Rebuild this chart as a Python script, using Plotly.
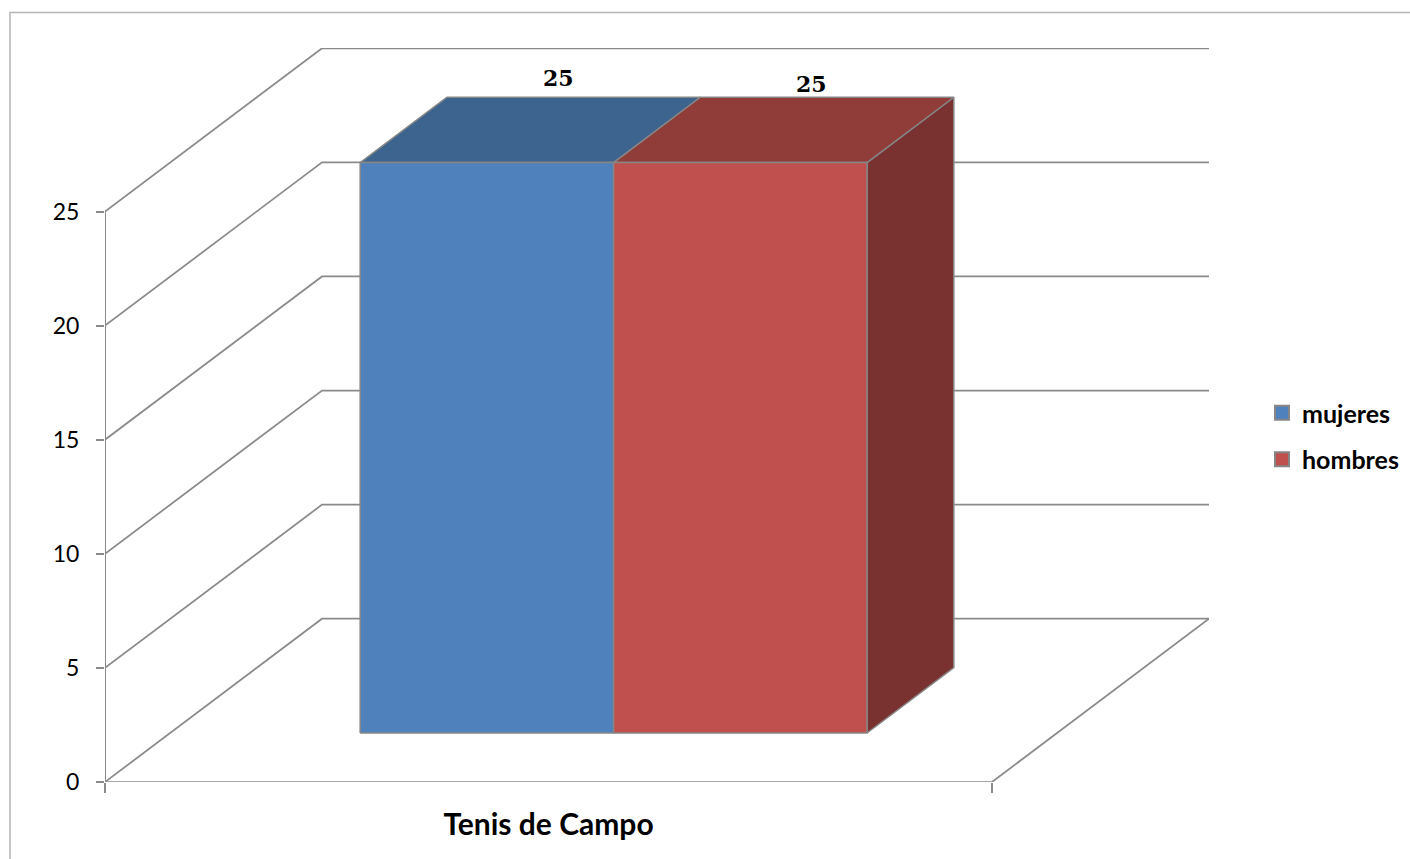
import plotly.graph_objects as go

# --- data ---
categories = ["Tenis de Campo"]
series_names = ["mujeres", "hombres"]
mujeres = [25]
hombres = [25]
value_ticks = [0, 5, 10, 15, 20, 25]

# --- style / oblique projection of the Excel 3-D column chart ---
PX_L, PX_CAT_R, PX_WALL_R = 105.0, 992.0, 1209.0
PX_BASE, PX_TOP = 782.5, 47.5
PX_PER_UNIT = 22.85
DEPTH_DX_PX, DEPTH_DY_PX = 217.0, 163.5
W, H = 1410, 859

CAT_PX = PX_CAT_R - PX_L
DX = DEPTH_DX_PX / CAT_PX            # x-units per unit of depth
DY = DEPTH_DY_PX / PX_PER_UNIT       # value-units per unit of depth
GAP_WIDTH = 1.5
BAR_W = 1 / (2 + GAP_WIDTH)
D0, D1 = 0.3, 0.7                    # bar depth span on the floor

GRID = "#8a8a8a"
EDGE = "#868686"
FRONT = {"mujeres": "#4f81bd", "hombres": "#c0504d"}
TOP = {"mujeres": "#3d638f", "hombres": "#903c39"}
SIDE = {"mujeres": "#2f4d70", "hombres": "#7a3230"}
FONT = "Lato"
LABEL_SHIFT = [(-15, 19), (-16, 13)]


def proj(x, v, d):
    return x + DX * d, v + DY * d


def poly(points):
    xs, ys = zip(*[proj(*p) for p in points])
    return list(xs), list(ys)


fig = go.Figure()


def line(points, width=1.75, color=GRID):
    xs, ys = poly(points)
    fig.add_trace(go.Scatter(x=xs, y=ys, mode="lines", showlegend=False, hoverinfo="skip",
                             line=dict(color=color, width=width)))


def face(points, fill):
    xs, ys = poly(points + points[:1])
    fig.add_trace(go.Scatter(x=xs, y=ys, mode="lines", fill="toself", fillcolor=fill,
                             showlegend=False, hoverinfo="skip",
                             line=dict(color=EDGE, width=1.5)))


# gridlines: across the side wall and the back wall
for v in value_ticks:
    line([(0, v, 0), (0, v, 1), (1, v, 1)])
# floor and axis
line([(0, 0, 0), (1, 0, 0), (1, 0, 1)])
line([(0, 0, 0), (0, value_ticks[-1], 0)], width=2)
# bars, left to right so the right bar hides the side of the left one
starts = [0.5 - BAR_W, 0.5]
values = [mujeres[0], hombres[0]]
for name, x0, val in zip(series_names, starts, values):
    x1 = x0 + BAR_W
    face([(x1, 0, D0), (x1, 0, D1), (x1, val, D1), (x1, val, D0)], SIDE[name])
    face([(x0, val, D0), (x1, val, D0), (x1, val, D1), (x0, val, D1)], TOP[name])
    face([(x0, 0, D0), (x1, 0, D0), (x1, val, D0), (x0, val, D0)], FRONT[name])

# legend entries
for name in series_names:
    fig.add_trace(go.Scatter(x=[None], y=[None], mode="markers", name=name, legendgroup=name,
                             marker=dict(symbol="square", size=14, color=FRONT[name],
                                         line=dict(color=EDGE, width=2))))

annotations = []
for x0, val, (sx, sy) in zip(starts, values, LABEL_SHIFT):
    px, py = proj(x0 + BAR_W / 2, val, D1)
    annotations.append(dict(x=px, y=py, xref="x", yref="y", text=f"<b>{val}</b>", showarrow=False,
                            xanchor="center", yanchor="middle", xshift=sx, yshift=sy,
                            font=dict(family="DejaVu Serif", size=22, color="black")))

fig.update_layout(
    width=W, height=H,
    margin=dict(l=PX_L, r=W - PX_WALL_R, t=PX_TOP, b=H - PX_BASE, pad=0, autoexpand=False),
    paper_bgcolor="white", plot_bgcolor="white",
    annotations=annotations,
    legend=dict(x=(1262 - PX_L) / (PX_WALL_R - PX_L), y=(PX_BASE - 390) / (PX_BASE - PX_TOP),
                xanchor="left", yanchor="top", bgcolor="rgba(0,0,0,0)", borderwidth=0,
                font=dict(family=FONT, size=25, color="black", weight=700), tracegroupgap=11),
    shapes=[dict(type="rect", xref="paper", yref="paper",
                 x0=(10 - PX_L) / (PX_WALL_R - PX_L), x1=(1420 - PX_L) / (PX_WALL_R - PX_L),
                 y0=(PX_BASE - 870) / (PX_BASE - PX_TOP), y1=(PX_BASE - 12) / (PX_BASE - PX_TOP),
                 line=dict(color="#b4b4b4", width=1.5), layer="below")],
    xaxis=dict(range=[0, (PX_WALL_R - PX_L) / CAT_PX], showgrid=False, zeroline=False, showline=False,
               tickvals=[0.5], ticktext=categories, ticks="", ticklabelstandoff=22,
               tickfont=dict(family=FONT, size=30, color="black", weight=700),
               minor=dict(tickvals=[0, 1], ticks="outside", ticklen=10, tickwidth=1.5, tickcolor=GRID)),
    yaxis=dict(range=[0, (PX_BASE - PX_TOP) / PX_PER_UNIT], showgrid=False, zeroline=False, showline=False,
               tickvals=value_ticks, ticks="outside", ticklen=8, tickwidth=1.5, tickcolor=GRID,
               ticklabelstandoff=12, tickfont=dict(family=FONT, size=23, color="black")),
)

fig.write_html("out.html", config={"displayModeBar": False},
               post_script="document.body.style.margin='0';document.body.style.overflow='hidden';")
